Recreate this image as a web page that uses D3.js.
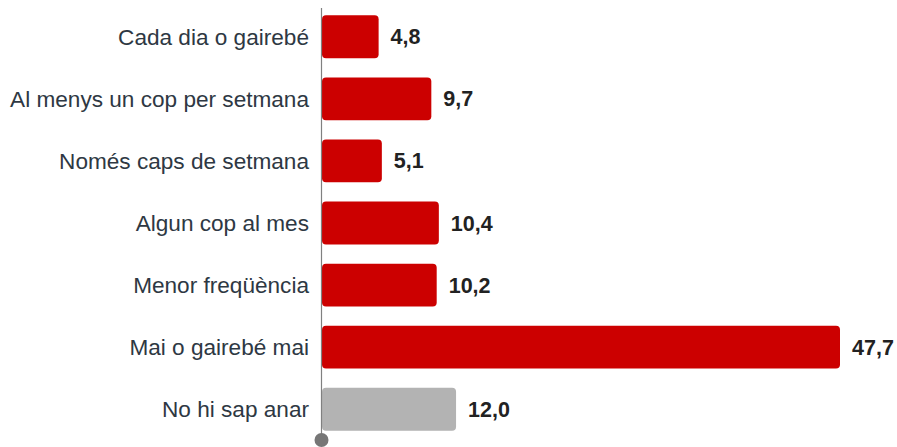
<!DOCTYPE html>
<html><head><meta charset="utf-8">
<script src="https://cdn.jsdelivr.net/npm/d3@7"></script>
<style>body{margin:0;background:#fff}svg{display:block}</style>
</head><body>
<script>
const categories = ["Cada dia o gairebé","Al menys un cop per setmana","Només caps de setmana","Algun cop al mes","Menor freqüència","Mai o gairebé mai","No hi sap anar"];
const values = [4.8, 9.7, 5.1, 10.4, 10.2, 47.7, 12.0];
const labels = ["4,8","9,7","5,1","10,4","10,2","47,7","12,0"];
const colors = ["#cc0000","#cc0000","#cc0000","#cc0000","#cc0000","#cc0000","#b3b3b3"];

const W = 897, H = 447;
const svg = d3.select("body").append("svg").attr("width", W).attr("height", H);
const x0 = 322;
const x = d3.scaleLinear().domain([0, 47.7]).range([327, 840]);
const y = d3.scaleBand().domain(categories).range([6, 440]).paddingInner(0.31).paddingOuter(0.15);

svg.selectAll("rect.bar").data(values).enter().append("rect")
  .attr("x", x0)
  .attr("y", (d,i) => y(categories[i]))
  .attr("width", d => x(d) - x0)
  .attr("height", y.bandwidth())
  .attr("rx", 4)
  .attr("fill", (d,i) => colors[i]);

svg.selectAll("text.cat").data(categories).enter().append("text")
  .attr("x", 309)
  .attr("y", d => y(d) + y.bandwidth()/2)
  .attr("dy", "0.35em")
  .attr("text-anchor", "end")
  .attr("font-family", "Liberation Sans, Arial, sans-serif")
  .attr("font-size", 22.6)
  .attr("fill", "#2e3843")
  .text(d => d);

svg.selectAll("text.val").data(values).enter().append("text")
  .attr("x", d => x(d) + 12)
  .attr("y", (d,i) => y(categories[i]) + y.bandwidth()/2)
  .attr("dy", "0.35em")
  .attr("font-family", "Liberation Sans, Arial, sans-serif")
  .attr("font-weight", "bold")
  .attr("font-size", 21.5)
  .attr("fill", "#222")
  .text((d,i) => labels[i]);

svg.append("line").attr("x1", 321.5).attr("x2", 321.5).attr("y1", 8).attr("y2", 438)
  .attr("stroke", "#808080").attr("stroke-width", 1.2);
svg.append("circle").attr("cx", 321.5).attr("cy", 440).attr("r", 7).attr("fill", "#767676");
</script>
</body></html>
